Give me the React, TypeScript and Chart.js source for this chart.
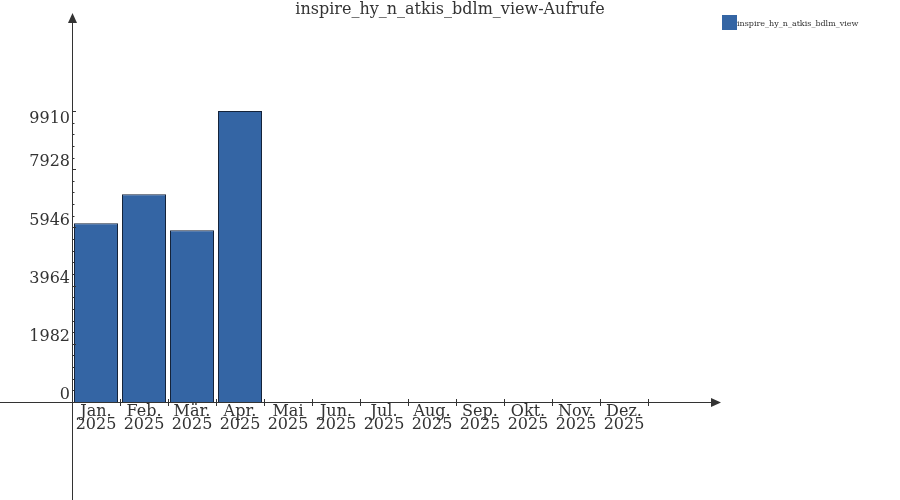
import React, { useEffect, useRef } from "react";
import { Chart, registerables } from "chart.js";

Chart.register(...registerables);

const chartTitle = "inspire_hy_n_atkis_bdlm_view-Aufrufe";
const seriesLabel = "inspire_hy_n_atkis_bdlm_view";
const months = ["Jan.", "Feb.", "Mär.", "Apr.", "Mai", "Jun.", "Jul.", "Aug.", "Sep.", "Okt.", "Nov.", "Dez."];
const year = "2025";
const calls = [6086, 7073, 5847, 9910, 0, 0, 0, 0, 0, 0, 0, 0];
const yTicks = [0, 1982, 3964, 5946, 7928, 9910];
const yMax = 13213;

const FONT = "'DejaVu Serif', serif";
const TEXT = "#333333";
const AXIS = "#333333";
const BAR = "#3465a4";
const BAR_BORDER = "#14233a";

const decorPlugin = {
  id: "decor",
  afterDraw(chart: any) {
    const ctx = chart.ctx;
    const x = chart.scales.x;
    const y = chart.scales.y;
    const ox = chart.chartArea.left;
    const oy = y.getPixelForValue(0);
    ctx.save();
    // title
    ctx.fillStyle = TEXT;
    ctx.font = `16px ${FONT}`;
    ctx.textAlign = "center";
    ctx.textBaseline = "alphabetic";
    ctx.fillText(chartTitle, 450, 14);
    // legend
    ctx.fillStyle = BAR;
    ctx.fillRect(722, 15, 15, 15);
    ctx.fillStyle = TEXT;
    ctx.font = `8px ${FONT}`;
    ctx.textAlign = "left";
    ctx.fillText(seriesLabel, 737, 26);
    // y tick labels (the top one sits just below its tick, the others just above)
    ctx.font = `16px ${FONT}`;
    ctx.textAlign = "right";
    ctx.textBaseline = "middle";
    for (let i = 0; i < yTicks.length; i++) {
      const py = y.getPixelForValue(yTicks[i]);
      const off = i === yTicks.length - 1 ? 8 : -7;
      ctx.fillText(String(yTicks[i]), ox - 2, py + off);
    }
    // axes
    ctx.strokeStyle = AXIS;
    ctx.fillStyle = AXIS;
    ctx.lineWidth = 1;
    ctx.beginPath();
    ctx.moveTo(ox + 0.5, 20);
    ctx.lineTo(ox + 0.5, 500);
    ctx.moveTo(0, oy + 0.5);
    ctx.lineTo(714, oy + 0.5);
    ctx.stroke();
    // arrows
    ctx.beginPath();
    ctx.moveTo(ox + 0.5, 13);
    ctx.lineTo(ox + 5, 23);
    ctx.lineTo(ox - 4, 23);
    ctx.closePath();
    ctx.fill();
    ctx.beginPath();
    ctx.moveTo(721, oy + 0.5);
    ctx.lineTo(711, oy - 4);
    ctx.lineTo(711, oy + 5);
    ctx.closePath();
    ctx.fill();
    // y ticks (major + minor)
    ctx.beginPath();
    for (let i = 0; i < yTicks.length; i++) {
      const py = Math.round(y.getPixelForValue(yTicks[i])) + 0.5;
      ctx.moveTo(ox, py);
      ctx.lineTo(ox + 4, py);
      if (i < yTicks.length - 1) {
        for (let k = 1; k < 5; k++) {
          const v = yTicks[i] + ((yTicks[i + 1] - yTicks[i]) * k) / 5;
          const pm = Math.round(y.getPixelForValue(v)) + 0.5;
          ctx.moveTo(ox, pm);
          ctx.lineTo(ox + 2.5, pm);
        }
      }
    }
    // x ticks at category boundaries
    for (let i = 0; i < months.length; i++) {
      const px = Math.round(x.getPixelForValue(i) + (x.getPixelForValue(1) - x.getPixelForValue(0)) / 2) + 0.5;
      ctx.moveTo(px, oy - 3);
      ctx.lineTo(px, oy + 4);
    }
    ctx.stroke();
    ctx.restore();
  },
};

export default function App() {
  const ref = useRef<HTMLCanvasElement | null>(null);
  useEffect(() => {
    if (!ref.current) return;
    const chart = new Chart(ref.current, {
      type: "bar",
      data: {
        labels: months.map((m) => [m, year]),
        datasets: [
          {
            label: seriesLabel,
            data: calls,
            backgroundColor: BAR,
            borderColor: BAR_BORDER,
            borderWidth: 1,
            inflateAmount: 0,
            barPercentage: 44 / 48,
            categoryPercentage: 1,
          },
        ],
      },
      options: {
        responsive: false,
        animation: false,
        devicePixelRatio: 1,
        layout: { padding: { left: 0, right: 252, top: 14, bottom: 0 } },
        plugins: {
          legend: { display: false },
          title: { display: false },
          tooltip: { enabled: false },
        },
        scales: {
          x: {
            offset: true,
            grid: { display: false, drawTicks: false },
            border: { display: false },
            ticks: {
              color: TEXT,
              font: { family: FONT, size: 16, lineHeight: 0.82 },
              padding: 3,
              maxRotation: 0,
              autoSkip: false,
            },
            afterFit: (s: any) => {
              s.height = 98;
            },
          },
          y: {
            min: 0,
            max: yMax,
            grid: { display: false, drawTicks: false },
            border: { display: false },
            afterBuildTicks: (s: any) => {
              s.ticks = yTicks.map((v) => ({ value: v }));
            },
            ticks: { display: false },
            afterFit: (s: any) => {
              s.width = 72;
            },
          },
        },
      },
      plugins: [decorPlugin],
    });
    return () => chart.destroy();
  }, []);
  return (
    <canvas
      ref={ref}
      width={900}
      height={500}
      style={{ position: "fixed", left: 0, top: 0, width: 900, height: 500 }}
    />
  );
}
